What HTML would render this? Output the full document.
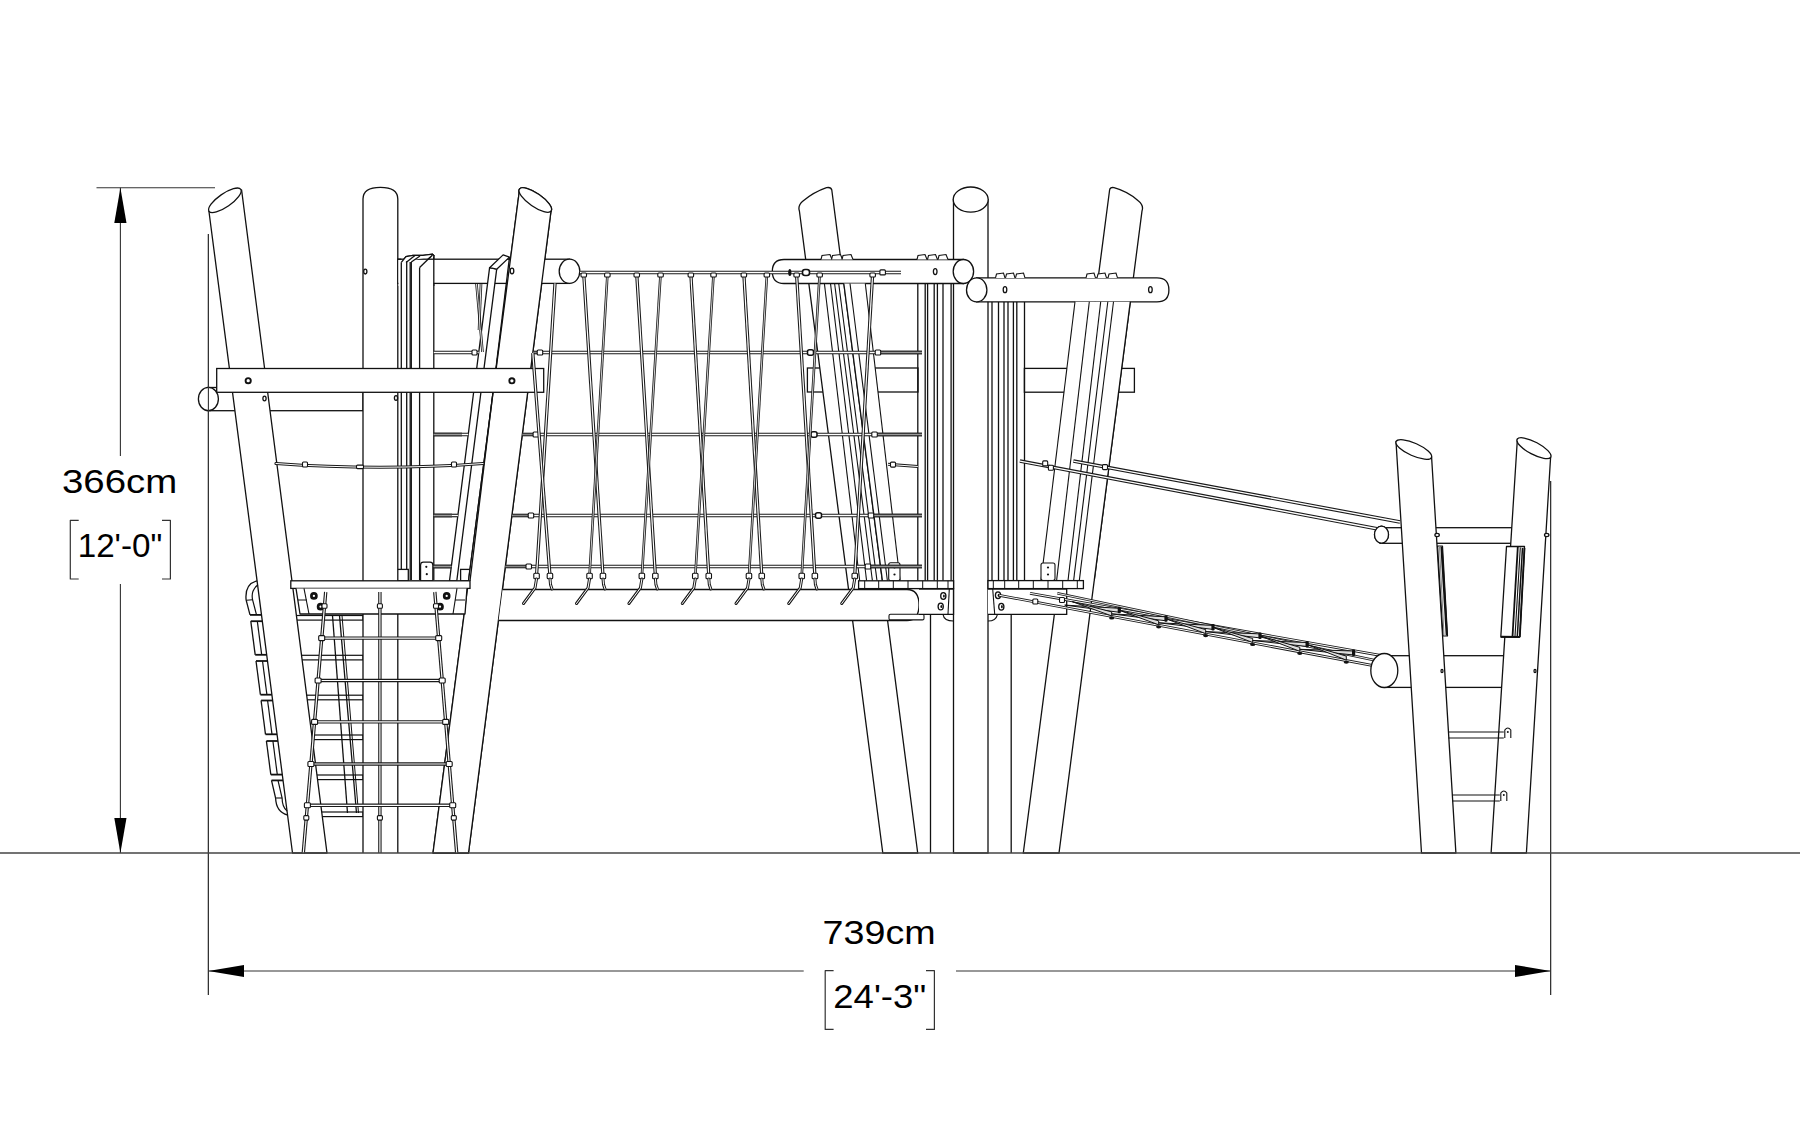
<!DOCTYPE html>
<html><head><meta charset="utf-8"><style>
html,body{margin:0;padding:0;background:#fff;}
svg{display:block;}
</style></head><body>
<svg width="1800" height="1125" viewBox="0 0 1800 1125">
<rect width="1800" height="1125" fill="#fff"/>
<line x1="96.5" y1="187.7" x2="215.0" y2="187.7" stroke="#333" stroke-width="1.1"/>
<line x1="120.4" y1="187.7" x2="120.4" y2="456.0" stroke="#333" stroke-width="1.1"/>
<line x1="120.4" y1="584.0" x2="120.4" y2="853.0" stroke="#333" stroke-width="1.1"/>
<polygon points="120.4,187.7 114.3,223 126.5,223" fill="#000"/>
<polygon points="120.4,853 114.3,818 126.5,818" fill="#000"/>
<line x1="208.4" y1="234.0" x2="208.4" y2="995.0" stroke="#333" stroke-width="1.1"/>
<line x1="1550.6" y1="481.0" x2="1550.6" y2="995.0" stroke="#333" stroke-width="1.1"/>
<line x1="208.4" y1="971.0" x2="803.7" y2="971.0" stroke="#333" stroke-width="1.1"/>
<line x1="956.0" y1="971.0" x2="1550.6" y2="971.0" stroke="#333" stroke-width="1.1"/>
<polygon points="208.4,971 244,965 244,977" fill="#000"/>
<polygon points="1550.6,971 1515,965 1515,977" fill="#000"/>
<polyline points="78.7,520.3 70.3,520.3 70.3,579.0 78.7,579.0" fill="none" stroke="#333" stroke-width="1.2" stroke-linejoin="round"/>
<polyline points="162.0,520.3 170.4,520.3 170.4,579.0 162.0,579.0" fill="none" stroke="#333" stroke-width="1.2" stroke-linejoin="round"/>
<polyline points="833.6,970.7 825.2,970.7 825.2,1029.4 833.6,1029.4" fill="none" stroke="#333" stroke-width="1.2" stroke-linejoin="round"/>
<polyline points="926.0,970.7 934.4,970.7 934.4,1029.4 926.0,1029.4" fill="none" stroke="#333" stroke-width="1.2" stroke-linejoin="round"/>
<text x="62.0" y="493.4" font-family="Liberation Sans" font-size="33" textLength="115.3" lengthAdjust="spacingAndGlyphs" fill="#000">366cm</text>
<text x="77.7" y="557.4" font-family="Liberation Sans" font-size="33" textLength="84.6" lengthAdjust="spacingAndGlyphs" fill="#000">12'-0"</text>
<text x="822.6" y="944.0" font-family="Liberation Sans" font-size="33" textLength="113.1" lengthAdjust="spacingAndGlyphs" fill="#000">739cm</text>
<text x="833.3" y="1007.9" font-family="Liberation Sans" font-size="33" textLength="93.0" lengthAdjust="spacingAndGlyphs" fill="#000">24'-3"</text>
<rect x="208.0" y="387.5" width="155.0" height="23.2" rx="0" fill="#fff" stroke="#111" stroke-width="1.3"/>
<ellipse cx="208.4" cy="399.0" rx="10.0" ry="11.6" transform="rotate(0 208.4 399.0)" fill="#fff" stroke="#111" stroke-width="1.3"/>
<rect x="291.0" y="615.5" width="72.0" height="4.6" rx="0" fill="#fff" stroke="#111" stroke-width="1.2"/>
<rect x="291.0" y="655.3" width="72.0" height="4.6" rx="0" fill="#fff" stroke="#111" stroke-width="1.2"/>
<rect x="291.0" y="695.2" width="72.0" height="4.6" rx="0" fill="#fff" stroke="#111" stroke-width="1.2"/>
<rect x="291.0" y="735.0" width="72.0" height="4.6" rx="0" fill="#fff" stroke="#111" stroke-width="1.2"/>
<rect x="291.0" y="775.0" width="72.0" height="4.6" rx="0" fill="#fff" stroke="#111" stroke-width="1.2"/>
<rect x="291.0" y="812.0" width="72.0" height="4.6" rx="0" fill="#fff" stroke="#111" stroke-width="1.2"/>
<line x1="332.5" y1="615.5" x2="347.5" y2="813.0" stroke="#111" stroke-width="1.3"/>
<line x1="339.5" y1="615.5" x2="356.5" y2="813.0" stroke="#111" stroke-width="1.3"/>
<line x1="342.0" y1="615.5" x2="358.5" y2="813.0" stroke="#111" stroke-width="1.0"/>
<line x1="401.3" y1="262.3" x2="401.3" y2="580.0" stroke="#111" stroke-width="1.3"/>
<line x1="406.7" y1="258.0" x2="406.7" y2="580.0" stroke="#111" stroke-width="1.3"/>
<line x1="410.2" y1="262.0" x2="410.2" y2="580.0" stroke="#111" stroke-width="1.3"/>
<line x1="411.3" y1="262.0" x2="411.3" y2="580.0" stroke="#111" stroke-width="1.3"/>
<line x1="419.6" y1="267.5" x2="419.6" y2="580.0" stroke="#111" stroke-width="1.3"/>
<line x1="433.8" y1="255.7" x2="433.8" y2="580.0" stroke="#111" stroke-width="1.3"/>
<path d="M401.3,262.3 L406,256.5 L413,255.3 L423,255.3 L432.5,254.2 L434.3,256" fill="none" stroke="#111" stroke-width="1.3"/>
<line x1="406.0" y1="262.5" x2="415.0" y2="255.5" stroke="#111" stroke-width="1.3"/>
<line x1="411.3" y1="262.0" x2="420.0" y2="256.0" stroke="#111" stroke-width="1.3"/>
<line x1="419.6" y1="267.5" x2="432.5" y2="255.0" stroke="#111" stroke-width="1.3"/>
<line x1="401.3" y1="262.3" x2="411.3" y2="262.0" stroke="#111" stroke-width="1.3"/>
<rect x="393.3" y="569.4" width="15.0" height="11.4" rx="0" fill="#fff" stroke="#111" stroke-width="1.3"/>
<path d="M420.6,580.8 L420.6,565 Q420.6,562.2 423.4,562.2 L430,562.2 Q432.8,562.2 432.8,565 L432.8,580.8 Z" fill="#fff" stroke="#111" stroke-width="1.2"/>
<circle cx="426.3" cy="566.8" r="1.1" fill="#111"/><circle cx="426.8" cy="574.2" r="1.1" fill="#111"/>
<rect x="460.6" y="569.4" width="9.0" height="11.4" rx="0" fill="#fff" stroke="#111" stroke-width="1.3"/>
<rect x="807.4" y="368.0" width="110.6" height="24.0" rx="0" fill="#fff" stroke="#111" stroke-width="1.3"/>
<rect x="1024.4" y="368.4" width="110.0" height="23.8" rx="0" fill="#fff" stroke="#111" stroke-width="1.3"/>
<line x1="917.8" y1="283.5" x2="917.8" y2="580.8" stroke="#111" stroke-width="1.3"/>
<line x1="925.2" y1="283.5" x2="925.2" y2="580.8" stroke="#111" stroke-width="1.3"/>
<line x1="927.6" y1="283.5" x2="927.6" y2="580.8" stroke="#111" stroke-width="1.3"/>
<line x1="934.2" y1="283.5" x2="934.2" y2="580.8" stroke="#111" stroke-width="1.3"/>
<line x1="937.4" y1="283.5" x2="937.4" y2="580.8" stroke="#111" stroke-width="1.3"/>
<line x1="943.0" y1="283.5" x2="943.0" y2="580.8" stroke="#111" stroke-width="1.3"/>
<line x1="951.1" y1="283.5" x2="951.1" y2="580.8" stroke="#111" stroke-width="1.3"/>
<line x1="992.0" y1="301.8" x2="992.0" y2="580.6" stroke="#111" stroke-width="1.3"/>
<line x1="998.5" y1="301.8" x2="998.5" y2="580.6" stroke="#111" stroke-width="1.3"/>
<line x1="1004.0" y1="301.8" x2="1004.0" y2="580.6" stroke="#111" stroke-width="1.3"/>
<line x1="1008.0" y1="301.8" x2="1008.0" y2="580.6" stroke="#111" stroke-width="1.3"/>
<line x1="1013.4" y1="301.8" x2="1013.4" y2="580.6" stroke="#111" stroke-width="1.3"/>
<line x1="1016.8" y1="301.8" x2="1016.8" y2="580.6" stroke="#111" stroke-width="1.3"/>
<line x1="1024.5" y1="301.8" x2="1024.5" y2="580.6" stroke="#111" stroke-width="1.3"/>
<rect x="1380.0" y="527.7" width="140.0" height="15.6" rx="0" fill="#fff" stroke="#111" stroke-width="1.3"/>
<ellipse cx="1381.5" cy="534.7" rx="7.0" ry="8.5" transform="rotate(0 1381.5 534.7)" fill="#fff" stroke="#111" stroke-width="1.3"/>
<rect x="1384.0" y="655.7" width="135.0" height="31.7" rx="0" fill="#fff" stroke="#111" stroke-width="1.3"/>
<line x1="930.5" y1="614.0" x2="930.5" y2="853.0" stroke="#111" stroke-width="1.3"/>
<line x1="1011.2" y1="614.0" x2="1011.2" y2="853.0" stroke="#111" stroke-width="1.3"/>
<polygon points="208.9,211.0 292.5,853.0 327.0,853.0 241.6,190.0" fill="#fff" stroke="#111" stroke-width="1.3" stroke-linejoin="round"/>
<ellipse cx="224.9" cy="200.3" rx="19.3" ry="6.6" transform="rotate(-34.7 224.9 200.3)" fill="#fff" stroke="#111" stroke-width="1.3"/>
<path d="M363,853 L363,199 Q363,187.3 380.4,187.3 Q397.8,187.3 397.8,199 L397.8,853" fill="#fff" stroke="#111" stroke-width="1.3"/>
<polygon points="519.6,189.0 433.0,853.0 468.5,853.0 551.0,211.0" fill="#fff" stroke="#111" stroke-width="1.3" stroke-linejoin="round"/>
<ellipse cx="535.3" cy="200.0" rx="19.3" ry="6.6" transform="rotate(34.7 535.3 200.0)" fill="#fff" stroke="#111" stroke-width="1.3"/>
<path d="M799.4,211 L882.8,853 L917.7,853 L831.8,190 Q831,186.8 826.5,187.7 Q814,192 803,201 Q797.5,205.5 799.4,211 Z" fill="#fff" stroke="#111" stroke-width="1.3"/>
<rect x="953.5" y="199.6" width="34.5" height="653.4" rx="0" fill="#fff" stroke="#111" stroke-width="1.3"/>
<ellipse cx="970.7" cy="199.6" rx="17.5" ry="12.6" transform="rotate(0 970.7 199.6)" fill="#fff" stroke="#111" stroke-width="1.3"/>
<path d="M1109.6,190 L1023.3,853 L1059,853 L1142,211 Q1144,205.5 1138.5,201 Q1128,191.5 1114,187.7 Q1110,186.8 1109.6,190 Z" fill="#fff" stroke="#111" stroke-width="1.3"/>
<polygon points="1396.0,441.5 1421.5,853.0 1455.9,853.0 1431.6,457.2" fill="#fff" stroke="#111" stroke-width="1.3" stroke-linejoin="round"/>
<ellipse cx="1413.8" cy="449.5" rx="19.4" ry="6.3" transform="rotate(24 1413.8 449.5)" fill="#fff" stroke="#111" stroke-width="1.3"/>
<polygon points="1517.4,438.8 1491.1,853.0 1526.4,853.0 1550.6,457.2" fill="#fff" stroke="#111" stroke-width="1.3" stroke-linejoin="round"/>
<ellipse cx="1534.0" cy="448.2" rx="19.0" ry="6.2" transform="rotate(28 1534.0 448.2)" fill="#fff" stroke="#111" stroke-width="1.3"/>
<ellipse cx="365.3" cy="271.6" rx="1.6" ry="2.4" fill="#fff" stroke="#111" stroke-width="1.3"/>
<ellipse cx="396.0" cy="398.0" rx="1.6" ry="2.4" fill="#fff" stroke="#111" stroke-width="1.3"/>
<ellipse cx="264.5" cy="398.5" rx="1.6" ry="2.4" fill="#fff" stroke="#111" stroke-width="1.3"/>
<ellipse cx="513.0" cy="288.0" rx="1.6" ry="2.4" fill="#fff" stroke="#111" stroke-width="1.3"/>
<rect x="397.8" y="259.2" width="171.7" height="24.2" rx="0" fill="#fff" stroke="#111" stroke-width="1.3"/>
<ellipse cx="569.5" cy="271.3" rx="10.3" ry="12.1" transform="rotate(0 569.5 271.3)" fill="#fff" stroke="#111" stroke-width="1.3"/>
<rect x="398.5" y="260" width="35" height="26" fill="#fff"/>
<line x1="401.3" y1="262.3" x2="401.3" y2="286.0" stroke="#111" stroke-width="1.3"/>
<line x1="406.7" y1="258.0" x2="406.7" y2="286.0" stroke="#111" stroke-width="1.3"/>
<line x1="410.2" y1="262.0" x2="410.2" y2="286.0" stroke="#111" stroke-width="1.3"/>
<line x1="411.3" y1="262.0" x2="411.3" y2="286.0" stroke="#111" stroke-width="1.3"/>
<line x1="419.6" y1="267.5" x2="419.6" y2="286.0" stroke="#111" stroke-width="1.3"/>
<line x1="433.8" y1="255.7" x2="433.8" y2="286.0" stroke="#111" stroke-width="1.3"/>
<path d="M401.3,262.3 L406,256.5 L413,255.3 L423,255.3 L432.5,254.2 L434.3,256" fill="#fff" stroke="#111" stroke-width="1.3"/>
<line x1="406.0" y1="262.5" x2="415.0" y2="255.5" stroke="#111" stroke-width="1.3"/>
<line x1="411.3" y1="262.0" x2="420.0" y2="256.0" stroke="#111" stroke-width="1.3"/>
<line x1="419.6" y1="267.5" x2="432.5" y2="255.0" stroke="#111" stroke-width="1.3"/>
<line x1="397.8" y1="259.2" x2="401.3" y2="259.2" stroke="#111" stroke-width="1.3"/>
<polygon points="519.6,189.0 433.0,853.0 468.5,853.0 551.0,211.0" fill="#fff" stroke="#111" stroke-width="1.3" stroke-linejoin="round"/>
<ellipse cx="535.3" cy="200.0" rx="19.3" ry="6.6" transform="rotate(34.7 535.3 200.0)" fill="#fff" stroke="#111" stroke-width="1.3"/>
<polygon points="489.6,267.7 449.5,580.8 456.8,580.8 496.7,269.2" fill="#fff" stroke="#111" stroke-width="1.3" stroke-linejoin="round"/>
<polygon points="489.6,267.7 503.1,254.9 509.5,257.1 496.7,269.2" fill="#fff" stroke="#111" stroke-width="1.3" stroke-linejoin="round"/>
<line x1="509.5" y1="257.1" x2="470.0" y2="580.8" stroke="#111" stroke-width="1.3"/>
<ellipse cx="512.0" cy="271.0" rx="1.8" ry="2.8" fill="#fff" stroke="#111" stroke-width="1.3"/>
<rect x="216.7" y="368.5" width="327.0" height="23.8" rx="0" fill="#fff" stroke="#111" stroke-width="1.3"/>
<circle cx="248.2" cy="380.7" r="2.6" fill="#fff" stroke="#111" stroke-width="1.9"/>
<circle cx="511.9" cy="380.8" r="2.6" fill="#fff" stroke="#111" stroke-width="1.9"/>
<path d="M784,259.5 L963.4,259.5 L963.4,283.5 L784,283.5 Q772.3,283.5 772.3,271.5 Q772.3,259.5 784,259.5 Z" fill="#fff" stroke="#111" stroke-width="1.3"/>
<ellipse cx="963.4" cy="271.5" rx="10.2" ry="12.0" transform="rotate(0 963.4 271.5)" fill="#fff" stroke="#111" stroke-width="1.3"/>
<ellipse cx="935.2" cy="271.6" rx="1.8" ry="3" fill="#fff" stroke="#111" stroke-width="1.3"/>
<path d="M976.7,277.9 L1157,277.9 Q1168.9,277.9 1168.9,289.9 Q1168.9,301.8 1157,301.8 L976.7,301.8 Z" fill="#fff" stroke="#111" stroke-width="1.3"/>
<ellipse cx="976.7" cy="289.9" rx="10.2" ry="12.0" transform="rotate(0 976.7 289.9)" fill="#fff" stroke="#111" stroke-width="1.3"/>
<ellipse cx="1005.0" cy="289.7" rx="1.8" ry="3" fill="#fff" stroke="#111" stroke-width="1.3"/>
<ellipse cx="1150.4" cy="289.7" rx="1.8" ry="3" fill="#fff" stroke="#111" stroke-width="1.3"/>
<path d="M821,259.5 L822,255.5 L830,254.5 L832,259.5" fill="#fff" stroke="#111" stroke-width="1.1"/>
<path d="M831.5,259.5 L832.5,255.5 L840.5,254.5 L842.5,259.5" fill="#fff" stroke="#111" stroke-width="1.1"/>
<path d="M842,259.5 L843,255.5 L851,254.5 L853,259.5" fill="#fff" stroke="#111" stroke-width="1.1"/>
<path d="M917,259.5 L918,255.5 L925,254.5 L927,259.5" fill="#fff" stroke="#111" stroke-width="1.1"/>
<path d="M927.5,259.5 L928.5,255.5 L935.5,254.5 L937.5,259.5" fill="#fff" stroke="#111" stroke-width="1.1"/>
<path d="M938,259.5 L939,255.5 L946,254.5 L948,259.5" fill="#fff" stroke="#111" stroke-width="1.1"/>
<path d="M995.5,277.9 L996.5,274 L1003.5,273 L1005.0,277.9" fill="#fff" stroke="#111" stroke-width="1.1"/>
<path d="M1005.5,277.9 L1006.5,274 L1013.5,273 L1015.0,277.9" fill="#fff" stroke="#111" stroke-width="1.1"/>
<path d="M1015.5,277.9 L1016.5,274 L1023.5,273 L1025.0,277.9" fill="#fff" stroke="#111" stroke-width="1.1"/>
<path d="M1086,277.9 L1087,274 L1094,273 L1095.5,277.9" fill="#fff" stroke="#111" stroke-width="1.1"/>
<path d="M1097,277.9 L1098,274 L1105,273 L1106.5,277.9" fill="#fff" stroke="#111" stroke-width="1.1"/>
<path d="M1108,277.9 L1109,274 L1116,273 L1117.5,277.9" fill="#fff" stroke="#111" stroke-width="1.1"/>
<polygon points="843.8,283.5 865.3,283.5 900.1,580.8 882.4,580.8" fill="#fff" stroke="none" stroke-width="0" stroke-linejoin="round"/>
<line x1="843.8" y1="283.5" x2="882.4" y2="580.8" stroke="#111" stroke-width="1.3"/>
<line x1="824.4" y1="283.5" x2="859.7" y2="580.8" stroke="#111" stroke-width="1.1"/>
<line x1="830.5" y1="283.5" x2="866.6" y2="580.8" stroke="#111" stroke-width="1.1"/>
<line x1="834.6" y1="283.5" x2="872.4" y2="580.8" stroke="#111" stroke-width="1.1"/>
<line x1="838.7" y1="283.5" x2="877.0" y2="580.8" stroke="#111" stroke-width="1.1"/>
<line x1="850.0" y1="283.5" x2="887.4" y2="580.8" stroke="#111" stroke-width="1.1"/>
<line x1="865.3" y1="283.5" x2="900.1" y2="580.8" stroke="#111" stroke-width="1.1"/>
<polygon points="1075.0,301.8 1041.0,580.6 1094.2,580.6 1130.3,301.8" fill="#fff" stroke="none" stroke-width="0" stroke-linejoin="round"/>
<line x1="1130.3" y1="301.8" x2="1094.2" y2="580.6" stroke="#111" stroke-width="1.3"/>
<line x1="1075.0" y1="301.8" x2="1041.0" y2="580.6" stroke="#111" stroke-width="1.1"/>
<line x1="1089.3" y1="301.8" x2="1056.6" y2="580.6" stroke="#111" stroke-width="1.1"/>
<line x1="1100.7" y1="301.8" x2="1068.0" y2="580.6" stroke="#111" stroke-width="1.1"/>
<line x1="1107.8" y1="301.8" x2="1073.6" y2="580.6" stroke="#111" stroke-width="1.1"/>
<line x1="1113.5" y1="301.8" x2="1079.3" y2="580.6" stroke="#111" stroke-width="1.1"/>
<rect x="1041.0" y="563.0" width="14.0" height="17.6" rx="2" fill="#fff" stroke="#111" stroke-width="1.1"/>
<circle cx="1048" cy="567.5" r="1.1" fill="#111"/><circle cx="1048" cy="574.5" r="1.1" fill="#111"/>
<rect x="888.7" y="562.7" width="11.3" height="18.0" rx="2" fill="#fff" stroke="#111" stroke-width="1.1"/>
<circle cx="894.5" cy="567.5" r="1.1" fill="#111"/><circle cx="894.5" cy="574.5" r="1.1" fill="#111"/>
<path d="M502.6,589.5 L907,589.5 Q919,589.5 919,605 Q919,620.5 907,620.5 L498.6,620.5" fill="#fff" stroke="#111" stroke-width="1.3"/>
<line x1="580.0" y1="272.5" x2="901.0" y2="272.5" stroke="#1a1a1a" stroke-width="3.6"/>
<line x1="580.0" y1="272.5" x2="901.0" y2="272.5" stroke="#fff" stroke-width="1.3"/>
<line x1="540.0" y1="352.5" x2="922.0" y2="352.5" stroke="#1a1a1a" stroke-width="3.6"/>
<line x1="540.0" y1="352.5" x2="922.0" y2="352.5" stroke="#fff" stroke-width="1.3"/>
<line x1="532.8" y1="352.5" x2="540.0" y2="352.5" stroke="#1a1a1a" stroke-width="3.6"/>
<line x1="532.8" y1="352.5" x2="540.0" y2="352.5" stroke="#888" stroke-width="1.6"/>
<rect x="537.2" y="350.0" width="5.5" height="5" rx="1" fill="#fff" stroke="#111" stroke-width="1.1"/>
<line x1="535.9" y1="434.5" x2="922.0" y2="434.5" stroke="#1a1a1a" stroke-width="3.6"/>
<line x1="535.9" y1="434.5" x2="922.0" y2="434.5" stroke="#fff" stroke-width="1.3"/>
<line x1="522.3" y1="434.5" x2="535.9" y2="434.5" stroke="#1a1a1a" stroke-width="3.6"/>
<line x1="522.3" y1="434.5" x2="535.9" y2="434.5" stroke="#888" stroke-width="1.6"/>
<rect x="533.1" y="432.0" width="5.5" height="5" rx="1" fill="#fff" stroke="#111" stroke-width="1.1"/>
<line x1="531.0" y1="515.5" x2="922.0" y2="515.5" stroke="#1a1a1a" stroke-width="3.6"/>
<line x1="531.0" y1="515.5" x2="922.0" y2="515.5" stroke="#fff" stroke-width="1.3"/>
<line x1="511.9" y1="515.5" x2="531.0" y2="515.5" stroke="#1a1a1a" stroke-width="3.6"/>
<line x1="511.9" y1="515.5" x2="531.0" y2="515.5" stroke="#888" stroke-width="1.6"/>
<rect x="528.2" y="513.0" width="5.5" height="5" rx="1" fill="#fff" stroke="#111" stroke-width="1.1"/>
<line x1="528.8" y1="566.5" x2="922.0" y2="566.5" stroke="#1a1a1a" stroke-width="3.6"/>
<line x1="528.8" y1="566.5" x2="922.0" y2="566.5" stroke="#fff" stroke-width="1.3"/>
<line x1="505.3" y1="566.5" x2="528.8" y2="566.5" stroke="#1a1a1a" stroke-width="3.6"/>
<line x1="505.3" y1="566.5" x2="528.8" y2="566.5" stroke="#888" stroke-width="1.6"/>
<rect x="526.0" y="564.0" width="5.5" height="5" rx="1" fill="#fff" stroke="#111" stroke-width="1.1"/>
<line x1="476.5" y1="284.0" x2="482.5" y2="352.0" stroke="#1a1a1a" stroke-width="2.6"/>
<line x1="476.5" y1="284.0" x2="482.5" y2="352.0" stroke="#fff" stroke-width="0.9"/>
<line x1="481.0" y1="284.0" x2="479.0" y2="330.0" stroke="#1a1a1a" stroke-width="2.6"/>
<line x1="481.0" y1="284.0" x2="479.0" y2="330.0" stroke="#fff" stroke-width="0.9"/>
<line x1="433.8" y1="352.5" x2="478.7" y2="352.5" stroke="#1a1a1a" stroke-width="3.6"/>
<line x1="433.8" y1="352.5" x2="478.7" y2="352.5" stroke="#fff" stroke-width="1.3"/>
<line x1="433.8" y1="434.5" x2="468.2" y2="434.5" stroke="#1a1a1a" stroke-width="3.6"/>
<line x1="433.8" y1="434.5" x2="468.2" y2="434.5" stroke="#fff" stroke-width="1.3"/>
<line x1="433.8" y1="515.5" x2="457.9" y2="515.5" stroke="#1a1a1a" stroke-width="3.6"/>
<line x1="433.8" y1="515.5" x2="457.9" y2="515.5" stroke="#fff" stroke-width="1.3"/>
<line x1="433.8" y1="566.5" x2="451.3" y2="566.5" stroke="#1a1a1a" stroke-width="3.6"/>
<line x1="433.8" y1="566.5" x2="451.3" y2="566.5" stroke="#fff" stroke-width="1.3"/>
<rect x="472.0" y="350.0" width="5" height="5" rx="1" fill="#fff" stroke="#111" stroke-width="1.1"/>
<line x1="881.0" y1="352.5" x2="922.0" y2="352.5" stroke="#1a1a1a" stroke-width="3.6"/>
<line x1="881.0" y1="352.5" x2="922.0" y2="352.5" stroke="#999" stroke-width="1.6"/>
<rect x="875.2" y="350.0" width="5.5" height="5" rx="1" fill="#fff" stroke="#111" stroke-width="1.1"/>
<line x1="877.5" y1="434.5" x2="922.0" y2="434.5" stroke="#1a1a1a" stroke-width="3.6"/>
<line x1="877.5" y1="434.5" x2="922.0" y2="434.5" stroke="#999" stroke-width="1.6"/>
<rect x="871.8" y="432.0" width="5.5" height="5" rx="1" fill="#fff" stroke="#111" stroke-width="1.1"/>
<line x1="874.0" y1="515.5" x2="922.0" y2="515.5" stroke="#1a1a1a" stroke-width="3.6"/>
<line x1="874.0" y1="515.5" x2="922.0" y2="515.5" stroke="#999" stroke-width="1.6"/>
<rect x="868.2" y="513.0" width="5.5" height="5" rx="1" fill="#fff" stroke="#111" stroke-width="1.1"/>
<line x1="871.0" y1="566.5" x2="922.0" y2="566.5" stroke="#1a1a1a" stroke-width="3.6"/>
<line x1="871.0" y1="566.5" x2="922.0" y2="566.5" stroke="#999" stroke-width="1.6"/>
<rect x="865.2" y="564.0" width="5.5" height="5" rx="1" fill="#fff" stroke="#111" stroke-width="1.1"/>
<line x1="433.8" y1="515.5" x2="452.0" y2="515.5" stroke="#1a1a1a" stroke-width="3.6"/>
<line x1="433.8" y1="515.5" x2="452.0" y2="515.5" stroke="#999" stroke-width="1.6"/>
<line x1="433.8" y1="434.5" x2="462.0" y2="434.5" stroke="#1a1a1a" stroke-width="3.6"/>
<line x1="433.8" y1="434.5" x2="462.0" y2="434.5" stroke="#999" stroke-width="1.6"/>
<line x1="433.8" y1="566.5" x2="451.0" y2="566.5" stroke="#1a1a1a" stroke-width="3.6"/>
<line x1="433.8" y1="566.5" x2="451.0" y2="566.5" stroke="#999" stroke-width="1.6"/>
<rect x="807.5" y="349.7" width="6" height="5.6" rx="2" fill="#fff" stroke="#111" stroke-width="1.5"/>
<rect x="811.0" y="431.7" width="6" height="5.6" rx="2" fill="#fff" stroke="#111" stroke-width="1.5"/>
<rect x="815.5" y="512.7" width="6" height="5.6" rx="2" fill="#fff" stroke="#111" stroke-width="1.5"/>
<line x1="583.8" y1="275.0" x2="603.0" y2="576.0" stroke="#1a1a1a" stroke-width="3.3"/>
<line x1="583.8" y1="275.0" x2="603.0" y2="576.0" stroke="#fff" stroke-width="1.2"/>
<line x1="607.4" y1="275.0" x2="589.5" y2="576.0" stroke="#1a1a1a" stroke-width="2.6"/>
<line x1="607.4" y1="275.0" x2="589.5" y2="576.0" stroke="#fff" stroke-width="0.8"/>
<line x1="636.8" y1="275.0" x2="655.4" y2="576.0" stroke="#1a1a1a" stroke-width="3.3"/>
<line x1="636.8" y1="275.0" x2="655.4" y2="576.0" stroke="#fff" stroke-width="1.2"/>
<line x1="660.5" y1="275.0" x2="641.9" y2="576.0" stroke="#1a1a1a" stroke-width="2.6"/>
<line x1="660.5" y1="275.0" x2="641.9" y2="576.0" stroke="#fff" stroke-width="0.8"/>
<line x1="690.9" y1="275.0" x2="708.8" y2="576.0" stroke="#1a1a1a" stroke-width="3.3"/>
<line x1="690.9" y1="275.0" x2="708.8" y2="576.0" stroke="#fff" stroke-width="1.2"/>
<line x1="713.5" y1="275.0" x2="695.3" y2="576.0" stroke="#1a1a1a" stroke-width="2.6"/>
<line x1="713.5" y1="275.0" x2="695.3" y2="576.0" stroke="#fff" stroke-width="0.8"/>
<line x1="743.9" y1="275.0" x2="761.8" y2="576.0" stroke="#1a1a1a" stroke-width="3.3"/>
<line x1="743.9" y1="275.0" x2="761.8" y2="576.0" stroke="#fff" stroke-width="1.2"/>
<line x1="766.9" y1="275.0" x2="749.0" y2="576.0" stroke="#1a1a1a" stroke-width="2.6"/>
<line x1="766.9" y1="275.0" x2="749.0" y2="576.0" stroke="#fff" stroke-width="0.8"/>
<line x1="796.6" y1="275.0" x2="814.9" y2="576.0" stroke="#1a1a1a" stroke-width="3.3"/>
<line x1="796.6" y1="275.0" x2="814.9" y2="576.0" stroke="#fff" stroke-width="1.2"/>
<line x1="819.6" y1="275.0" x2="801.7" y2="576.0" stroke="#1a1a1a" stroke-width="2.6"/>
<line x1="819.6" y1="275.0" x2="801.7" y2="576.0" stroke="#fff" stroke-width="0.8"/>
<line x1="555.0" y1="283.4" x2="536.5" y2="576.0" stroke="#1a1a1a" stroke-width="3.3"/>
<line x1="555.0" y1="283.4" x2="536.5" y2="576.0" stroke="#fff" stroke-width="1.2"/>
<line x1="532.8" y1="353.0" x2="550.0" y2="576.0" stroke="#1a1a1a" stroke-width="3.3"/>
<line x1="532.8" y1="353.0" x2="550.0" y2="576.0" stroke="#fff" stroke-width="1.2"/>
<line x1="872.6" y1="275.0" x2="854.7" y2="576.0" stroke="#1a1a1a" stroke-width="3.3"/>
<line x1="872.6" y1="275.0" x2="854.7" y2="576.0" stroke="#fff" stroke-width="1.2"/>
<rect x="581.0" y="273.0" width="5.5" height="4" rx="1" fill="#fff" stroke="#111" stroke-width="1.1"/>
<rect x="604.6" y="273.0" width="5.5" height="4" rx="1" fill="#fff" stroke="#111" stroke-width="1.1"/>
<rect x="634.0" y="273.0" width="5.5" height="4" rx="1" fill="#fff" stroke="#111" stroke-width="1.1"/>
<rect x="657.8" y="273.0" width="5.5" height="4" rx="1" fill="#fff" stroke="#111" stroke-width="1.1"/>
<rect x="688.1" y="273.0" width="5.5" height="4" rx="1" fill="#fff" stroke="#111" stroke-width="1.1"/>
<rect x="710.8" y="273.0" width="5.5" height="4" rx="1" fill="#fff" stroke="#111" stroke-width="1.1"/>
<rect x="741.1" y="273.0" width="5.5" height="4" rx="1" fill="#fff" stroke="#111" stroke-width="1.1"/>
<rect x="764.1" y="273.0" width="5.5" height="4" rx="1" fill="#fff" stroke="#111" stroke-width="1.1"/>
<rect x="793.9" y="273.0" width="5.5" height="4" rx="1" fill="#fff" stroke="#111" stroke-width="1.1"/>
<rect x="816.9" y="273.0" width="5.5" height="4" rx="1" fill="#fff" stroke="#111" stroke-width="1.1"/>
<rect x="869.9" y="273.0" width="5.5" height="4" rx="1" fill="#fff" stroke="#111" stroke-width="1.1"/>
<rect x="879.9" y="269.9" width="5.5" height="5" rx="1" fill="#fff" stroke="#111" stroke-width="1.1"/>
<ellipse cx="789.8" cy="272.5" rx="1.6" ry="3.6" fill="#111"/>
<rect x="802.5" y="269.5" width="7" height="6" rx="2.5" fill="#fff" stroke="#111" stroke-width="1.6"/>
<rect x="533.8" y="573.2" width="5.5" height="5.5" rx="1" fill="#fff" stroke="#111" stroke-width="1.1"/>
<path d="M536.5,579 L535.0,588 L523.5,603.5" fill="none" stroke="#1a1a1a" stroke-width="3.0" stroke-linecap="round"/>
<path d="M536.5,579 L535.0,588 L523.5,603.5" fill="none" stroke="#fff" stroke-width="1.0" stroke-linecap="round"/>
<rect x="547.2" y="573.2" width="5.5" height="5.5" rx="1" fill="#fff" stroke="#111" stroke-width="1.1"/>
<path d="M550.0,579 Q550.0,585 552.0,589" fill="none" stroke="#1a1a1a" stroke-width="3.0" stroke-linecap="round"/>
<path d="M550.0,579 Q550.0,585 552.0,589" fill="none" stroke="#fff" stroke-width="1.0" stroke-linecap="round"/>
<rect x="586.8" y="573.2" width="5.5" height="5.5" rx="1" fill="#fff" stroke="#111" stroke-width="1.1"/>
<path d="M589.5,579 L588.0,588 L576.5,603.5" fill="none" stroke="#1a1a1a" stroke-width="3.0" stroke-linecap="round"/>
<path d="M589.5,579 L588.0,588 L576.5,603.5" fill="none" stroke="#fff" stroke-width="1.0" stroke-linecap="round"/>
<rect x="600.2" y="573.2" width="5.5" height="5.5" rx="1" fill="#fff" stroke="#111" stroke-width="1.1"/>
<path d="M603.0,579 Q603.0,585 605.0,589" fill="none" stroke="#1a1a1a" stroke-width="3.0" stroke-linecap="round"/>
<path d="M603.0,579 Q603.0,585 605.0,589" fill="none" stroke="#fff" stroke-width="1.0" stroke-linecap="round"/>
<rect x="639.1" y="573.2" width="5.5" height="5.5" rx="1" fill="#fff" stroke="#111" stroke-width="1.1"/>
<path d="M641.9,579 L640.4,588 L628.9,603.5" fill="none" stroke="#1a1a1a" stroke-width="3.0" stroke-linecap="round"/>
<path d="M641.9,579 L640.4,588 L628.9,603.5" fill="none" stroke="#fff" stroke-width="1.0" stroke-linecap="round"/>
<rect x="652.6" y="573.2" width="5.5" height="5.5" rx="1" fill="#fff" stroke="#111" stroke-width="1.1"/>
<path d="M655.4,579 Q655.4,585 657.4,589" fill="none" stroke="#1a1a1a" stroke-width="3.0" stroke-linecap="round"/>
<path d="M655.4,579 Q655.4,585 657.4,589" fill="none" stroke="#fff" stroke-width="1.0" stroke-linecap="round"/>
<rect x="692.5" y="573.2" width="5.5" height="5.5" rx="1" fill="#fff" stroke="#111" stroke-width="1.1"/>
<path d="M695.3,579 L693.8,588 L682.3,603.5" fill="none" stroke="#1a1a1a" stroke-width="3.0" stroke-linecap="round"/>
<path d="M695.3,579 L693.8,588 L682.3,603.5" fill="none" stroke="#fff" stroke-width="1.0" stroke-linecap="round"/>
<rect x="706.0" y="573.2" width="5.5" height="5.5" rx="1" fill="#fff" stroke="#111" stroke-width="1.1"/>
<path d="M708.8,579 Q708.8,585 710.8,589" fill="none" stroke="#1a1a1a" stroke-width="3.0" stroke-linecap="round"/>
<path d="M708.8,579 Q708.8,585 710.8,589" fill="none" stroke="#fff" stroke-width="1.0" stroke-linecap="round"/>
<rect x="746.2" y="573.2" width="5.5" height="5.5" rx="1" fill="#fff" stroke="#111" stroke-width="1.1"/>
<path d="M749.0,579 L747.5,588 L736.0,603.5" fill="none" stroke="#1a1a1a" stroke-width="3.0" stroke-linecap="round"/>
<path d="M749.0,579 L747.5,588 L736.0,603.5" fill="none" stroke="#fff" stroke-width="1.0" stroke-linecap="round"/>
<rect x="759.0" y="573.2" width="5.5" height="5.5" rx="1" fill="#fff" stroke="#111" stroke-width="1.1"/>
<path d="M761.8,579 Q761.8,585 763.8,589" fill="none" stroke="#1a1a1a" stroke-width="3.0" stroke-linecap="round"/>
<path d="M761.8,579 Q761.8,585 763.8,589" fill="none" stroke="#fff" stroke-width="1.0" stroke-linecap="round"/>
<rect x="799.0" y="573.2" width="5.5" height="5.5" rx="1" fill="#fff" stroke="#111" stroke-width="1.1"/>
<path d="M801.7,579 L800.2,588 L788.7,603.5" fill="none" stroke="#1a1a1a" stroke-width="3.0" stroke-linecap="round"/>
<path d="M801.7,579 L800.2,588 L788.7,603.5" fill="none" stroke="#fff" stroke-width="1.0" stroke-linecap="round"/>
<rect x="812.1" y="573.2" width="5.5" height="5.5" rx="1" fill="#fff" stroke="#111" stroke-width="1.1"/>
<path d="M814.9,579 Q814.9,585 816.9,589" fill="none" stroke="#1a1a1a" stroke-width="3.0" stroke-linecap="round"/>
<path d="M814.9,579 Q814.9,585 816.9,589" fill="none" stroke="#fff" stroke-width="1.0" stroke-linecap="round"/>
<rect x="852.0" y="573.2" width="5.5" height="5.5" rx="1" fill="#fff" stroke="#111" stroke-width="1.1"/>
<path d="M854.7,579 L853.2,588 L841.7,603.5" fill="none" stroke="#1a1a1a" stroke-width="3.0" stroke-linecap="round"/>
<path d="M854.7,579 L853.2,588 L841.7,603.5" fill="none" stroke="#fff" stroke-width="1.0" stroke-linecap="round"/>
<line x1="888.0" y1="464.3" x2="917.8" y2="466.5" stroke="#1a1a1a" stroke-width="3.0"/>
<line x1="888.0" y1="464.3" x2="917.8" y2="466.5" stroke="#fff" stroke-width="1.0"/>
<rect x="890.5" y="462.1" width="5" height="5" rx="1" fill="#fff" stroke="#111" stroke-width="1.1"/>
<rect x="290.8" y="580.8" width="179.2" height="7.6" rx="0" fill="#fff" stroke="#111" stroke-width="1.3"/>
<polyline points="296.0,588.4 300.0,614.0 465.0,614.0 467.0,588.4" fill="#fff" stroke="#111" stroke-width="1.3" stroke-linejoin="round"/>
<line x1="304.0" y1="588.4" x2="309.0" y2="614.0" stroke="#111" stroke-width="1.1"/>
<line x1="457.0" y1="588.4" x2="453.0" y2="614.0" stroke="#111" stroke-width="1.1"/>
<line x1="298.0" y1="600.0" x2="307.0" y2="600.0" stroke="#111" stroke-width="1.0"/>
<line x1="455.0" y1="600.0" x2="465.0" y2="600.0" stroke="#111" stroke-width="1.0"/>
<circle cx="313.9" cy="595.9" r="2.5" fill="#fff" stroke="#111" stroke-width="2.7"/>
<circle cx="320.6" cy="606.7" r="2.5" fill="#fff" stroke="#111" stroke-width="2.7"/>
<circle cx="446.7" cy="595.9" r="2.5" fill="#fff" stroke="#111" stroke-width="2.7"/>
<circle cx="440.0" cy="606.7" r="2.5" fill="#fff" stroke="#111" stroke-width="2.7"/>
<line x1="325.7" y1="592.0" x2="303.3" y2="853.0" stroke="#1a1a1a" stroke-width="3.4"/>
<line x1="325.7" y1="592.0" x2="303.3" y2="853.0" stroke="#fff" stroke-width="1.2"/>
<line x1="434.8" y1="592.0" x2="456.7" y2="853.0" stroke="#1a1a1a" stroke-width="3.4"/>
<line x1="434.8" y1="592.0" x2="456.7" y2="853.0" stroke="#fff" stroke-width="1.2"/>
<line x1="379.9" y1="592.0" x2="379.9" y2="853.0" stroke="#1a1a1a" stroke-width="3.4"/>
<line x1="379.9" y1="592.0" x2="379.9" y2="853.0" stroke="#fff" stroke-width="1.2"/>
<line x1="323.7" y1="638.1" x2="436.7" y2="638.1" stroke="#1a1a1a" stroke-width="3.4"/>
<line x1="323.7" y1="638.1" x2="436.7" y2="638.1" stroke="#fff" stroke-width="1.2"/>
<rect x="318.7" y="635.6" width="6" height="5" rx="1" fill="#fff" stroke="#111" stroke-width="1.1"/>
<rect x="435.7" y="635.6" width="6" height="5" rx="1" fill="#fff" stroke="#111" stroke-width="1.1"/>
<line x1="320.1" y1="680.5" x2="440.2" y2="680.5" stroke="#1a1a1a" stroke-width="3.4"/>
<line x1="320.1" y1="680.5" x2="440.2" y2="680.5" stroke="#fff" stroke-width="1.2"/>
<rect x="315.1" y="678.0" width="6" height="5" rx="1" fill="#fff" stroke="#111" stroke-width="1.1"/>
<rect x="439.2" y="678.0" width="6" height="5" rx="1" fill="#fff" stroke="#111" stroke-width="1.1"/>
<line x1="316.6" y1="721.9" x2="443.7" y2="721.9" stroke="#1a1a1a" stroke-width="3.4"/>
<line x1="316.6" y1="721.9" x2="443.7" y2="721.9" stroke="#fff" stroke-width="1.2"/>
<rect x="311.6" y="719.4" width="6" height="5" rx="1" fill="#fff" stroke="#111" stroke-width="1.1"/>
<rect x="442.7" y="719.4" width="6" height="5" rx="1" fill="#fff" stroke="#111" stroke-width="1.1"/>
<line x1="312.9" y1="764.0" x2="447.2" y2="764.0" stroke="#1a1a1a" stroke-width="3.4"/>
<line x1="312.9" y1="764.0" x2="447.2" y2="764.0" stroke="#fff" stroke-width="1.2"/>
<rect x="307.9" y="761.5" width="6" height="5" rx="1" fill="#fff" stroke="#111" stroke-width="1.1"/>
<rect x="446.2" y="761.5" width="6" height="5" rx="1" fill="#fff" stroke="#111" stroke-width="1.1"/>
<line x1="309.4" y1="805.3" x2="450.7" y2="805.3" stroke="#1a1a1a" stroke-width="3.4"/>
<line x1="309.4" y1="805.3" x2="450.7" y2="805.3" stroke="#fff" stroke-width="1.2"/>
<rect x="304.4" y="802.8" width="6" height="5" rx="1" fill="#fff" stroke="#111" stroke-width="1.1"/>
<rect x="449.7" y="802.8" width="6" height="5" rx="1" fill="#fff" stroke="#111" stroke-width="1.1"/>
<rect x="322.0" y="603.8" width="5" height="4.5" rx="1" fill="#fff" stroke="#111" stroke-width="1.1"/>
<rect x="433.5" y="603.8" width="5" height="4.5" rx="1" fill="#fff" stroke="#111" stroke-width="1.1"/>
<rect x="377.4" y="603.8" width="5" height="4.5" rx="1" fill="#fff" stroke="#111" stroke-width="1.1"/>
<rect x="303.8" y="815.6" width="5" height="4.5" rx="1" fill="#fff" stroke="#111" stroke-width="1.1"/>
<rect x="451.3" y="815.6" width="5" height="4.5" rx="1" fill="#fff" stroke="#111" stroke-width="1.1"/>
<rect x="377.4" y="815.6" width="5" height="4.5" rx="1" fill="#fff" stroke="#111" stroke-width="1.1"/>
<path d="M257.1,580.8 Q244.6,583.8 246.1,599.8 L250.0,614.9" fill="none" stroke="#111" stroke-width="1.3"/>
<path d="M257.9,584.8 Q250.6,590.8 252.6,599.8 L256.5,614.9" fill="none" stroke="#111" stroke-width="1.2"/>
<line x1="246.4" y1="600.3" x2="252.6" y2="599.8" stroke="#111" stroke-width="1.1"/>
<line x1="250.0" y1="614.9" x2="261.5" y2="614.9" stroke="#111" stroke-width="1.8"/>
<line x1="250.8" y1="621.2" x2="255.2" y2="654.8" stroke="#111" stroke-width="1.3"/>
<line x1="257.3" y1="621.2" x2="261.7" y2="654.8" stroke="#111" stroke-width="1.2"/>
<line x1="250.8" y1="621.2" x2="262.3" y2="621.2" stroke="#111" stroke-width="1.8"/>
<line x1="255.2" y1="654.8" x2="266.7" y2="654.8" stroke="#111" stroke-width="1.8"/>
<line x1="256.0" y1="661.0" x2="260.4" y2="694.7" stroke="#111" stroke-width="1.3"/>
<line x1="262.5" y1="661.0" x2="266.9" y2="694.7" stroke="#111" stroke-width="1.2"/>
<line x1="256.0" y1="661.0" x2="267.5" y2="661.0" stroke="#111" stroke-width="1.8"/>
<line x1="260.4" y1="694.7" x2="271.9" y2="694.7" stroke="#111" stroke-width="1.8"/>
<line x1="261.1" y1="700.5" x2="265.5" y2="734.3" stroke="#111" stroke-width="1.3"/>
<line x1="267.6" y1="700.5" x2="272.0" y2="734.3" stroke="#111" stroke-width="1.2"/>
<line x1="261.1" y1="700.5" x2="272.6" y2="700.5" stroke="#111" stroke-width="1.8"/>
<line x1="265.5" y1="734.3" x2="277.0" y2="734.3" stroke="#111" stroke-width="1.8"/>
<line x1="266.4" y1="741.0" x2="270.8" y2="774.6" stroke="#111" stroke-width="1.3"/>
<line x1="272.9" y1="741.0" x2="277.3" y2="774.6" stroke="#111" stroke-width="1.2"/>
<line x1="266.4" y1="741.0" x2="277.9" y2="741.0" stroke="#111" stroke-width="1.8"/>
<line x1="270.8" y1="774.6" x2="282.3" y2="774.6" stroke="#111" stroke-width="1.8"/>
<path d="M271.5,780.4 L275.6,798.0 Q276.1,812.0 287.6,815.0" fill="none" stroke="#111" stroke-width="1.3"/>
<path d="M278.0,780.4 L282.1,798.0 Q282.1,807.0 287.1,811.0" fill="none" stroke="#111" stroke-width="1.2"/>
<line x1="276.1" y1="798.0" x2="282.1" y2="798.0" stroke="#111" stroke-width="1.1"/>
<line x1="271.5" y1="780.4" x2="283.0" y2="780.4" stroke="#111" stroke-width="1.8"/>
<rect x="858.6" y="580.8" width="95.0" height="7.8" rx="0" fill="#fff" stroke="#111" stroke-width="1.3"/>
<line x1="864.7" y1="580.8" x2="864.7" y2="588.6" stroke="#111" stroke-width="1.0"/>
<line x1="878.7" y1="580.8" x2="878.7" y2="588.6" stroke="#111" stroke-width="1.0"/>
<line x1="893.3" y1="580.8" x2="893.3" y2="588.6" stroke="#111" stroke-width="1.0"/>
<line x1="908.0" y1="580.8" x2="908.0" y2="588.6" stroke="#111" stroke-width="1.0"/>
<line x1="922.7" y1="580.8" x2="922.7" y2="588.6" stroke="#111" stroke-width="1.0"/>
<line x1="937.3" y1="580.8" x2="937.3" y2="588.6" stroke="#111" stroke-width="1.0"/>
<line x1="948.0" y1="580.8" x2="948.0" y2="588.6" stroke="#111" stroke-width="1.0"/>
<rect x="988.0" y="580.6" width="95.4" height="8.0" rx="0" fill="#fff" stroke="#111" stroke-width="1.3"/>
<line x1="993.3" y1="580.6" x2="993.3" y2="588.6" stroke="#111" stroke-width="1.0"/>
<line x1="1004.7" y1="580.6" x2="1004.7" y2="588.6" stroke="#111" stroke-width="1.0"/>
<line x1="1018.7" y1="580.6" x2="1018.7" y2="588.6" stroke="#111" stroke-width="1.0"/>
<line x1="1033.3" y1="580.6" x2="1033.3" y2="588.6" stroke="#111" stroke-width="1.0"/>
<line x1="1048.0" y1="580.6" x2="1048.0" y2="588.6" stroke="#111" stroke-width="1.0"/>
<line x1="1062.7" y1="580.6" x2="1062.7" y2="588.6" stroke="#111" stroke-width="1.0"/>
<line x1="1077.3" y1="580.6" x2="1077.3" y2="588.6" stroke="#111" stroke-width="1.0"/>
<rect x="889.0" y="614.3" width="35.0" height="5.6" rx="1.5" fill="#fff" stroke="#111" stroke-width="1.1"/>
<path d="M919,589 L953.5,589 L953.5,614.3 L919,614.3" fill="#fff" stroke="#111" stroke-width="1.3"/>
<line x1="949.3" y1="589.0" x2="948.0" y2="614.3" stroke="#111" stroke-width="1.1"/>
<path d="M943,614.3 Q944,621 953.5,621" fill="none" stroke="#111" stroke-width="1.1"/>
<path d="M988,589 L1066.7,589 L1066.7,614.3 L988,614.3" fill="#fff" stroke="#111" stroke-width="1.3"/>
<line x1="992.7" y1="589.0" x2="994.7" y2="614.3" stroke="#111" stroke-width="1.1"/>
<path d="M988,621 Q996,621 997.5,614.3" fill="none" stroke="#111" stroke-width="1.1"/>
<ellipse cx="943.3" cy="596.0" rx="2.6" ry="3.4" fill="#fff" stroke="#111" stroke-width="1.3"/>
<ellipse cx="943.9" cy="596.0" rx="0.9" ry="1.6" fill="#111"/>
<ellipse cx="940.7" cy="606.5" rx="2.6" ry="3.4" fill="#fff" stroke="#111" stroke-width="1.3"/>
<ellipse cx="941.3" cy="606.5" rx="0.9" ry="1.6" fill="#111"/>
<ellipse cx="998.0" cy="595.3" rx="2.6" ry="3.4" fill="#fff" stroke="#111" stroke-width="1.3"/>
<ellipse cx="998.6" cy="595.3" rx="0.9" ry="1.6" fill="#111"/>
<ellipse cx="1001.3" cy="606.7" rx="2.6" ry="3.4" fill="#fff" stroke="#111" stroke-width="1.3"/>
<ellipse cx="1001.9" cy="606.7" rx="0.9" ry="1.6" fill="#111"/>
<path d="M276,463.5 Q380,471 483,463.5" fill="none" stroke="#1a1a1a" stroke-width="3.2" stroke-linecap="round"/>
<path d="M276,463.5 Q380,471 483,463.5" fill="none" stroke="#fff" stroke-width="1.1" stroke-linecap="round"/>
<rect x="302.5" y="462.0" width="5" height="5" rx="1" fill="#fff" stroke="#111" stroke-width="1.1"/>
<rect x="451.5" y="462.0" width="5" height="5" rx="1" fill="#fff" stroke="#111" stroke-width="1.1"/>
<rect x="356.5" y="465.1" width="7" height="3.5" rx="1" fill="#fff" stroke="#111" stroke-width="1.1"/>
<line x1="1019.9" y1="461.1" x2="1380.8" y2="529.5" stroke="#1a1a1a" stroke-width="3.6"/>
<line x1="1019.9" y1="461.1" x2="1380.8" y2="529.5" stroke="#fff" stroke-width="1.3"/>
<line x1="1073.4" y1="461.1" x2="1400.0" y2="522.0" stroke="#1a1a1a" stroke-width="3.6"/>
<line x1="1073.4" y1="461.1" x2="1400.0" y2="522.0" stroke="#fff" stroke-width="1.3"/>
<rect x="1042.7" y="460.9" width="5" height="5" rx="1" fill="#fff" stroke="#111" stroke-width="1.1"/>
<rect x="1048.4" y="465.2" width="5" height="5" rx="1" fill="#fff" stroke="#111" stroke-width="1.1"/>
<rect x="1102.5" y="464.6" width="5" height="5" rx="1" fill="#fff" stroke="#111" stroke-width="1.1"/>
<ellipse cx="1381.5" cy="534.7" rx="7.0" ry="8.5" transform="rotate(0 1381.5 534.7)" fill="#fff" stroke="#111" stroke-width="1.3"/>
<line x1="1030.0" y1="593.3" x2="1381.7" y2="655.6" stroke="#1a1a1a" stroke-width="2.8"/>
<line x1="1030.0" y1="593.3" x2="1381.7" y2="655.6" stroke="#fff" stroke-width="1.0"/>
<line x1="999.3" y1="595.3" x2="1372.0" y2="665.4" stroke="#1a1a1a" stroke-width="2.8"/>
<line x1="999.3" y1="595.3" x2="1372.0" y2="665.4" stroke="#fff" stroke-width="1.0"/>
<line x1="1057.3" y1="593.3" x2="1376.0" y2="660.5" stroke="#1a1a1a" stroke-width="2.6"/>
<line x1="1057.3" y1="593.3" x2="1376.0" y2="660.5" stroke="#fff" stroke-width="0.9"/>
<polygon points="1064.7,605.1 1119.3,608.3 1119.3,612.3" fill="#ddd" stroke="#111" stroke-width="1"/>
<polygon points="1072.3,601.7 1111.7,611.9 1111.7,615.9" fill="#ddd" stroke="#111" stroke-width="1"/>
<polygon points="1111.7,613.9 1166.0,616.8 1166.0,620.8" fill="#ddd" stroke="#111" stroke-width="1"/>
<polygon points="1119.3,610.3 1158.7,620.8 1158.7,624.8" fill="#ddd" stroke="#111" stroke-width="1"/>
<polygon points="1158.7,622.8 1213.0,625.4 1213.0,629.4" fill="#ddd" stroke="#111" stroke-width="1"/>
<polygon points="1166.0,618.8 1205.7,629.6 1205.7,633.6" fill="#ddd" stroke="#111" stroke-width="1"/>
<polygon points="1205.7,631.6 1260.0,633.9 1260.0,637.9" fill="#ddd" stroke="#111" stroke-width="1"/>
<polygon points="1213.0,627.4 1252.7,638.5 1252.7,642.5" fill="#ddd" stroke="#111" stroke-width="1"/>
<polygon points="1252.7,640.5 1307.1,642.5 1307.1,646.5" fill="#ddd" stroke="#111" stroke-width="1"/>
<polygon points="1260.0,635.9 1299.8,647.3 1299.8,651.3" fill="#ddd" stroke="#111" stroke-width="1"/>
<polygon points="1299.8,649.3 1353.6,651.0 1353.6,655.0" fill="#ddd" stroke="#111" stroke-width="1"/>
<polygon points="1307.1,644.5 1346.3,656.1 1346.3,660.1" fill="#ddd" stroke="#111" stroke-width="1"/>
<rect x="1117.7" y="606.8" width="3.2" height="6.5" rx="1.2" fill="#111"/>
<ellipse cx="1111.7" cy="617.9" rx="2.6" ry="1.6" fill="#111"/>
<rect x="1164.4" y="615.3" width="3.2" height="6.5" rx="1.2" fill="#111"/>
<ellipse cx="1158.7" cy="626.8" rx="2.6" ry="1.6" fill="#111"/>
<rect x="1211.4" y="623.9" width="3.2" height="6.5" rx="1.2" fill="#111"/>
<ellipse cx="1205.7" cy="635.6" rx="2.6" ry="1.6" fill="#111"/>
<rect x="1258.4" y="632.4" width="3.2" height="6.5" rx="1.2" fill="#111"/>
<ellipse cx="1252.7" cy="644.5" rx="2.6" ry="1.6" fill="#111"/>
<rect x="1305.5" y="641.0" width="3.2" height="6.5" rx="1.2" fill="#111"/>
<ellipse cx="1299.8" cy="653.3" rx="2.6" ry="1.6" fill="#111"/>
<rect x="1352.0" y="649.5" width="3.2" height="6.5" rx="1.2" fill="#111"/>
<ellipse cx="1346.3" cy="662.1" rx="2.6" ry="1.6" fill="#111"/>
<rect x="1032.8" y="599.0" width="5" height="5" rx="1" fill="#fff" stroke="#111" stroke-width="1.1"/>
<rect x="1059.5" y="597.5" width="5" height="5" rx="1" fill="#fff" stroke="#111" stroke-width="1.1"/>
<ellipse cx="1384.3" cy="670.5" rx="13.5" ry="17.0" transform="rotate(0 1384.3 670.5)" fill="#fff" stroke="#111" stroke-width="1.3"/>
<ellipse cx="1437.1" cy="535.0" rx="2.2" ry="1.6" fill="#fff" stroke="#111" stroke-width="1.3"/>
<ellipse cx="1546.7" cy="535.0" rx="2.2" ry="1.6" fill="#fff" stroke="#111" stroke-width="1.3"/>
<ellipse cx="1442.0" cy="671.0" rx="1" ry="1.6" fill="#fff" stroke="#111" stroke-width="1.3"/>
<ellipse cx="1535.0" cy="671.0" rx="1" ry="1.6" fill="#fff" stroke="#111" stroke-width="1.3"/>
<polygon points="1437.6,546.0 1442.5,546.0 1447.5,636.0 1443.0,636.0" fill="#fff" stroke="#111" stroke-width="1.2" stroke-linejoin="round"/>
<line x1="1441.5" y1="546.5" x2="1446.8" y2="635.5" stroke="#111" stroke-width="2.2"/>
<line x1="1439.5" y1="547.0" x2="1444.0" y2="635.0" stroke="#777" stroke-width="0.9"/>
<polygon points="1506.5,546.5 1524.5,546.5 1519.8,637.0 1500.8,637.0" fill="#fff" stroke="#111" stroke-width="1.3" stroke-linejoin="round"/>
<line x1="1517.8" y1="547.0" x2="1512.5" y2="636.5" stroke="#111" stroke-width="1.8"/>
<line x1="1520.3" y1="547.5" x2="1515.0" y2="636.5" stroke="#111" stroke-width="1.1"/>
<line x1="1522.5" y1="548.0" x2="1517.3" y2="636.5" stroke="#111" stroke-width="1.5"/>
<line x1="1524.5" y1="548.0" x2="1519.8" y2="637.0" stroke="#111" stroke-width="1.8"/>
<line x1="1501.0" y1="636.8" x2="1519.8" y2="637.0" stroke="#111" stroke-width="2.0"/>
<line x1="1448.5" y1="732.0" x2="1503.8" y2="732.0" stroke="#111" stroke-width="1.2"/>
<line x1="1448.5" y1="738.0" x2="1503.8" y2="738.0" stroke="#111" stroke-width="1.2"/>
<path d="M1504.8,738.0 L1504.8,730.0 Q1507.8,726.0 1510.8,730.0 L1510.8,738.0" fill="#fff" stroke="#111" stroke-width="1.1"/>
<circle cx="1507.8" cy="732.0" r="1" fill="#111"/>
<line x1="1452.3" y1="795.0" x2="1499.8" y2="795.0" stroke="#111" stroke-width="1.2"/>
<line x1="1452.3" y1="801.0" x2="1499.8" y2="801.0" stroke="#111" stroke-width="1.2"/>
<path d="M1500.8,801.0 L1500.8,793.0 Q1503.8,789.0 1506.8,793.0 L1506.8,801.0" fill="#fff" stroke="#111" stroke-width="1.1"/>
<circle cx="1503.8" cy="795.0" r="1" fill="#111"/>
<line x1="208.4" y1="234.0" x2="208.4" y2="995.0" stroke="#333" stroke-width="1.1"/>
<line x1="1550.6" y1="481.0" x2="1550.6" y2="995.0" stroke="#333" stroke-width="1.1"/>
<line x1="0.0" y1="853.0" x2="1800.0" y2="853.0" stroke="#444" stroke-width="1.4"/>
</svg></body></html>
